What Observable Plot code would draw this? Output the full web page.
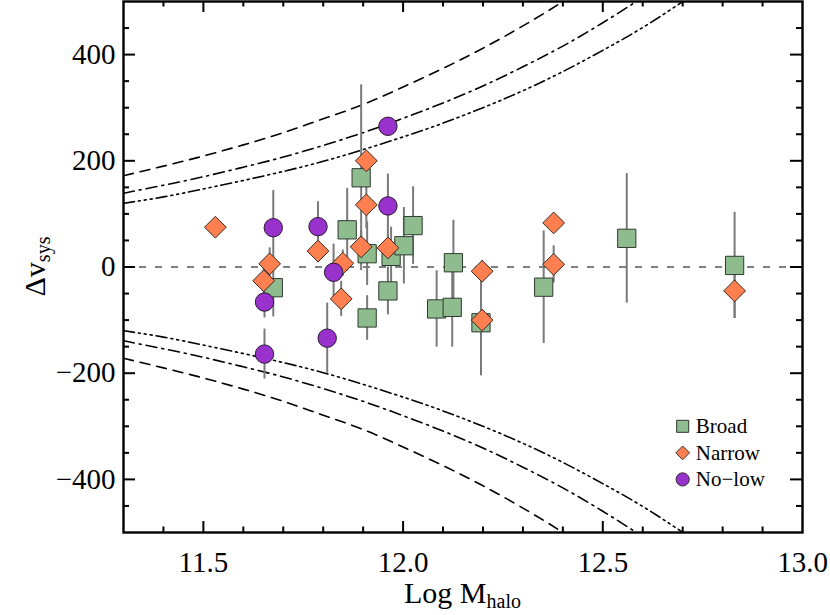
<!DOCTYPE html>
<html><head><meta charset="utf-8">
<script src="https://cdn.jsdelivr.net/npm/d3@7"></script>
<script src="https://cdn.jsdelivr.net/npm/@observablehq/plot@0.6"></script>
<style>body{margin:0;background:#fff} #chart{width:830px;height:615px}</style>
</head><body><div id="chart"></div>
<script>
// ---- data ----
const broadX   = [11.675, 11.86, 11.895, 11.91, 11.91, 11.97, 11.962, 12.002, 12.025, 12.084, 12.123, 12.126, 12.195, 12.352, 12.56, 12.83];
const broadY   = [-39, 70, 168, 25, -96, 20, -45, 40, 78, -79, -76, 8, -105, -38, 54, 3];
const broadErr = [55, 78, 175, 60, 42, 55, 45, 72, 73, 72, 75, 80, 100, 106, 122, 100];

const narrowX   = [11.53, 11.651, 11.666, 11.787, 11.849, 11.845, 11.895, 11.908, 11.908, 11.962, 12.198, 12.198, 12.377, 12.377, 12.83];
const narrowY   = [75, -26, 6, 30, 7, -60, 38, 200, 117, 36, -8, -100, 83, 5, -45];
const narrowErr = [0, 30, 30, 22, 25, 33, 30, 0, 45, 25, 20, 20, 0, 35, 52];

const nolowX   = [11.675, 11.653, 11.653, 11.787, 11.826, 11.81, 11.962, 11.962];
const nolowY   = [74, -66, -164, 76, -10, -134, 265, 115];
const nolowErr = [70, 30, 47, 47, 53, 66, 0, 60];

const curveX      = [11.3, 11.4, 11.5, 11.6, 11.7, 11.8, 11.9, 12.0, 12.1, 12.2, 12.3, 12.4, 12.5, 12.6, 12.7, 12.8];
const dashedV     = [172, 190, 209, 230, 253, 279, 306, 339, 374, 412, 454, 500, 552, 608, 670, 740];
const dashDotV    = [139, 154, 170, 188, 207, 229, 253, 280, 309, 341, 377, 416, 460, 508, 561, 620];
const dashDot3V   = [120, 132, 147, 163, 180, 199, 221, 245, 271, 300, 332, 368, 408, 451, 500, 553];

const xMajorTicks = [11.5, 12.0, 12.5];
const xMinorTicks = [11.4, 11.6, 11.7, 11.8, 11.9, 12.1, 12.2, 12.3, 12.4, 12.6, 12.7, 12.8, 12.9];
const xTickLabels = [11.5, 12.0, 12.5, 13.0];
const yMajorTicks = [-400, -200, 0, 200, 400];
const yMinorTicks = [-450, -350, -300, -250, -150, -100, -50, 50, 100, 150, 250, 300, 350, 450];

const legendLabels = ["Broad", "Narrow", "No\u2212low"];
const legendY = [-300, -350, -400];
const legendX = 12.70;
const legendTextX = 12.733;

// ---- tables ----
const mk = (X, Y, E) => X.map((x, i) => ({x, y: Y[i], e: E[i]}));
const broad = mk(broadX, broadY, broadErr);
const narrow = mk(narrowX, narrowY, narrowErr);
const nolow = mk(nolowX, nolowY, nolowErr);
const allErr = [...broad, ...narrow, ...nolow].filter(d => d.e > 0);

const curves = [
  {v: dashedV, dash: "10,7"},
  {v: dashDotV, dash: "11,5,2,5"},
  {v: dashDot3V, dash: "11,4,2,4,2,4,2,4"}
];

const W = 830, H = 615, mL = 123, mR = 28, mT = 1, mB = 83;
const fH = H - mT - mB, fW = W - mL - mR;
const majL = 11, minL = 5.5, majLy = 12, minLy = 6;
const ff = "'Liberation Serif', 'Times New Roman', serif";

const colBroad = "#8fbc8f", colNarrow = "#ff7f50", colNolow = "#9932cc";
const legendRows = legendLabels.map((t, i) => ({t, y: legendY[i], sym: ["square", "diamond2", "circle"][i], fill: [colBroad, colNarrow, colNolow][i], r: [6.8, 6.2, 6.6][i]}));

const lineMarks = [];
for (const c of curves) {
  for (const s of [1, -1]) {
    lineMarks.push(Plot.line(curveX.map((x, i) => ({x, y: s * c.v[i]})), {
      x: "x", y: "y", curve: "natural", stroke: "black", strokeWidth: 1.6,
      strokeDasharray: c.dash, clip: true
    }));
  }
}

const plot = Plot.plot({
  width: W, height: H,
  marginLeft: mL, marginRight: mR, marginTop: mT, marginBottom: mB,
  style: {fontFamily: ff, background: "white", color: "black"},
  x: {domain: [11.3, 13.0]},
  y: {domain: [-500, 500]},
  r: {type: "identity"},
  marks: [
    Plot.ruleY([0], {stroke: "black", strokeWidth: 1.2, strokeDasharray: "7,9"}),
    ...lineMarks,
    Plot.ruleX(allErr, {x: "x", y1: d => d.y - d.e, y2: d => d.y + d.e, stroke: "#7a7a7a", strokeWidth: 2}),
    Plot.dot(broad, {x: "x", y: "y", symbol: "square", r: 10.3, fill: colBroad, stroke: "#2e3a2e", strokeWidth: 1}),
    Plot.dot(narrow, {x: "x", y: "y", symbol: "diamond2", r: 9.8, fill: colNarrow, stroke: "#3a2a20", strokeWidth: 1}),
    Plot.dot(nolow, {x: "x", y: "y", symbol: "circle", r: 9.2, fill: colNolow, stroke: "#2a1a33", strokeWidth: 1}),
    // legend
    Plot.dot(legendRows, {x: () => legendX, y: "y", symbol: "sym", fill: "fill", r: "r", stroke: "#333", strokeWidth: 1}),
    Plot.text(legendRows, {x: () => legendTextX, y: "y", text: "t", textAnchor: "start", fontSize: 21, fontFamily: ff, fill: "black"}),
    // ticks (inward, mirrored)
    Plot.tickX(xMajorTicks, {x: d => d, insetTop: fH - majL, stroke: "black", strokeWidth: 2}),
    Plot.tickX(xMajorTicks, {x: d => d, insetBottom: fH - majL, stroke: "black", strokeWidth: 2}),
    Plot.tickX(xMinorTicks, {x: d => d, insetTop: fH - minL, stroke: "black", strokeWidth: 2}),
    Plot.tickX(xMinorTicks, {x: d => d, insetBottom: fH - minL, stroke: "black", strokeWidth: 2}),
    Plot.tickY(yMajorTicks, {y: d => d, insetRight: fW - majLy, stroke: "black", strokeWidth: 2}),
    Plot.tickY(yMajorTicks, {y: d => d, insetLeft: fW - majLy, stroke: "black", strokeWidth: 2}),
    Plot.tickY(yMinorTicks, {y: d => d, insetRight: fW - minLy, stroke: "black", strokeWidth: 2}),
    Plot.tickY(yMinorTicks, {y: d => d, insetLeft: fW - minLy, stroke: "black", strokeWidth: 2}),
    Plot.axisX({ticks: xTickLabels, tickSize: 0, tickPadding: 19, tickFormat: d3.format(".1f"), fontSize: 29, fontFamily: ff, label: null}),
    Plot.axisY({ticks: yMajorTicks, tickSize: 0, tickPadding: 8, fontSize: 29, fontFamily: ff, label: null}),
    Plot.frame({stroke: "black", strokeWidth: 2.4})
  ]
});

const svg = d3.select(plot);
svg.selectAll("text").attr("font-family", ff);
const xt = svg.append("text").attr("x", mL + fW / 2).attr("y", 603).attr("text-anchor", "middle")
  .attr("font-family", ff).attr("font-size", 30).attr("fill", "black");
xt.append("tspan").text("Log M");
xt.append("tspan").attr("dy", 5).attr("font-size", 20).text("halo");

const yt = svg.append("text").attr("transform", `translate(45,${mT + fH / 2}) rotate(-90)`).attr("text-anchor", "middle")
  .attr("font-family", ff).attr("font-size", 30).attr("fill", "black");
yt.append("tspan").text("\u0394v");
yt.append("tspan").attr("dy", 5).attr("font-size", 20).text("sys");

document.getElementById("chart").appendChild(plot);
</script>
</body></html>
